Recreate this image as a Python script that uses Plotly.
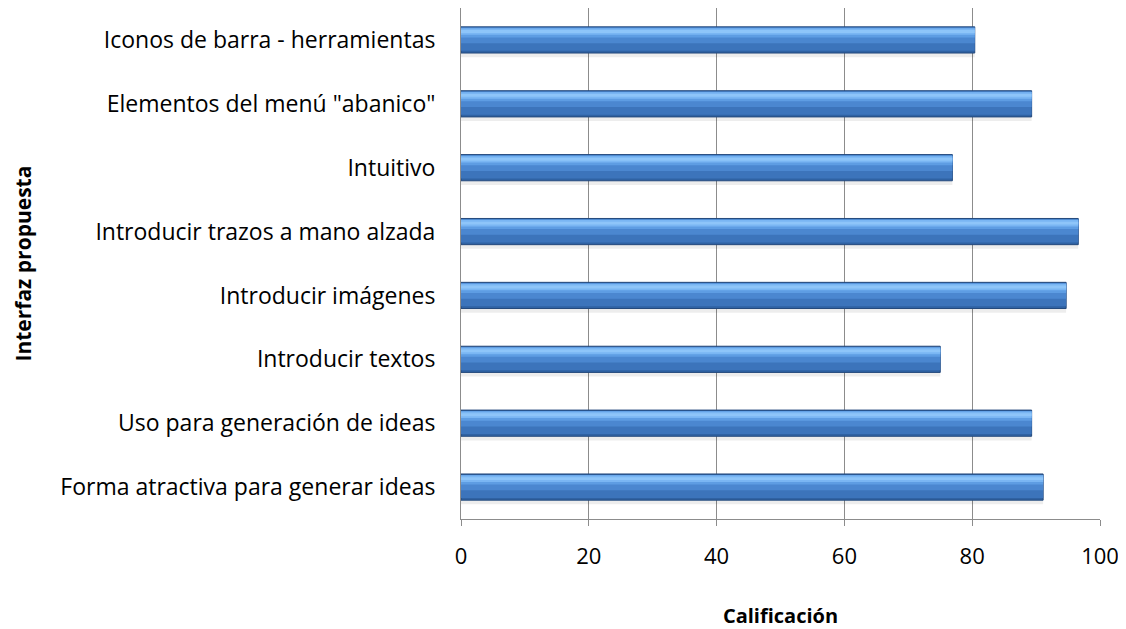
import plotly.graph_objects as go

categories = [
    "Forma atractiva para generar ideas",
    "Uso para generación de ideas",
    "Introducir textos",
    "Introducir imágenes",
    "Introducir trazos a mano alzada",
    "Intuitivo",
    "Elementos del menú \"abanico\"",
    "Iconos de barra - herramientas",
]
values = [91.1, 89.3, 75.0, 94.7, 96.6, 76.9, 89.3, 80.4]
x_ticks = [0, 20, 40, 60, 80, 100]

FONT = "Open Sans"

fig = go.Figure()

# shadow
fig.add_trace(go.Bar(y=categories, x=values, orientation="h", offset=-0.27, width=0.07,
                     marker=dict(color="rgba(0,0,0,0.07)", line=dict(width=0)),
                     hoverinfo="skip", showlegend=False))
# gradient layers (same data, stacked strips to mimic the bevelled bars)
layers = [
    (-0.205, 0.41, "#2f62a3", dict(color="#24497c", width=1)),
    (-0.17, 0.36, "#3c74bb", dict(width=0)),
    (-0.05, 0.24, "#4b87d0", dict(width=0)),
    (0.04, 0.15, "#5e9de3", dict(width=0)),
    (0.08, 0.10, "#7ab6f3", dict(width=0)),
    (0.11, 0.045, "#8ec5f9", dict(width=0)),
]
for off, w, col, ln in layers:
    fig.add_trace(go.Bar(y=categories, x=values, orientation="h", offset=off, width=w,
                         marker=dict(color=col, line=ln), showlegend=False))

fig.update_layout(
    barmode="overlay",
    width=1118, height=621,
    margin=dict(l=453, r=26, t=0, b=110),
    paper_bgcolor="white", plot_bgcolor="white",
    font=dict(family=FONT, size=22, color="#000000"),
    showlegend=False,
    xaxis=dict(
        range=[0, 100], tickvals=x_ticks, ticktext=[str(v) for v in x_ticks],
        showgrid=True, gridcolor="#8c8c8c", gridwidth=1,
        showline=True, linecolor="#8c8c8c", linewidth=1,
        ticks="outside", ticklen=6, tickcolor="#8c8c8c",
        ticklabelstandoff=12,
        zeroline=False,
        title=dict(text="<b>Calificación</b>", font=dict(family=FONT, size=20), standoff=40),
        fixedrange=True,
    ),
    yaxis=dict(
        categoryorder="array", categoryarray=categories,
        showgrid=False, showline=True, linecolor="#8c8c8c", linewidth=1,
        ticks="", ticklabelstandoff=20, zeroline=False,
        tickfont=dict(family=FONT, size=23),
        range=[-0.5, 7.5], fixedrange=True,
    ),
    annotations=[dict(
        text="<b>Interfaz propuesta</b>", xref="paper", yref="paper",
        x=-0.687, y=0.5, textangle=-90, showarrow=False,
        font=dict(family=FONT, size=21), xanchor="center", yanchor="middle",
    )],
)

fig.write_html("out.html")
